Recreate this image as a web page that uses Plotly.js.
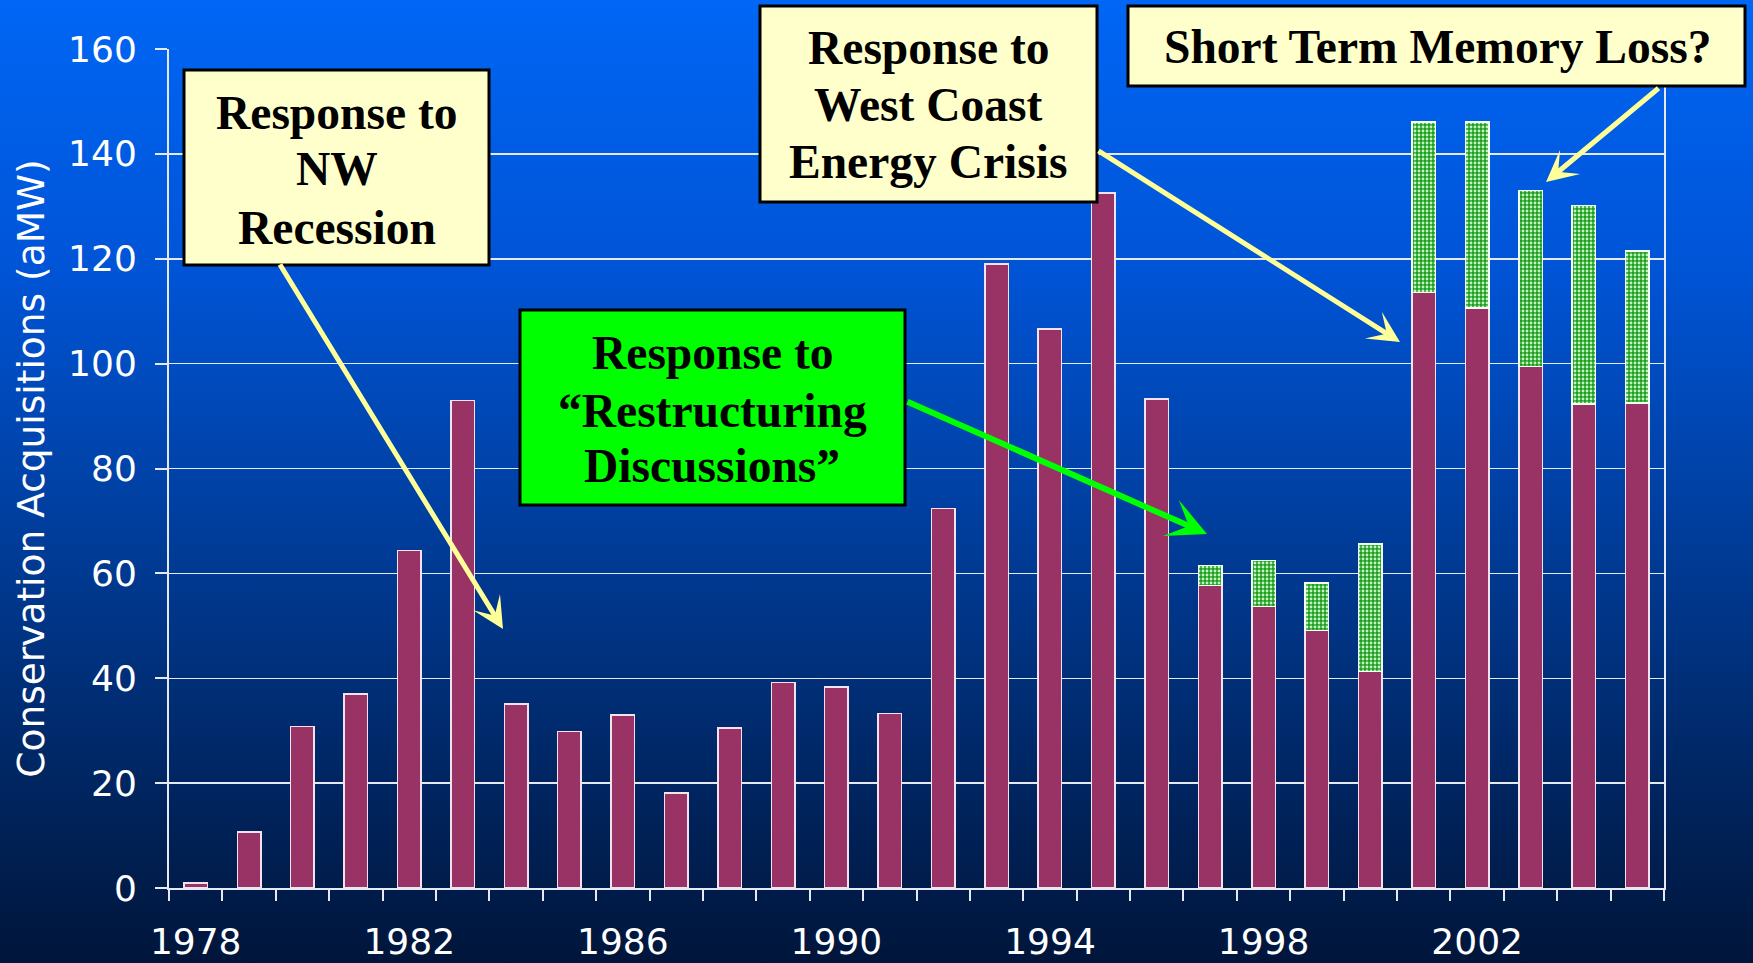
<!DOCTYPE html>
<html><head><meta charset="utf-8">
<script src="https://cdn.plot.ly/plotly-3.0.1.min.js"></script>
<style>
html,body{margin:0;padding:0;}
body{width:1753px;height:963px;overflow:hidden;background:linear-gradient(to bottom,#0066f5 0%,#0054d6 28%,#0040a2 52%,#002a6c 76%,#00153a 100%);}
#chart{width:1753px;height:963px;}
</style></head><body><div id="chart"></div>
<script>
// ---- data ----
const years = [1978,1979,1980,1981,1982,1983,1984,1985,1986,1987,1988,1989,1990,1991,1992,1993,1994,1995,1996,1997,1998,1999,2000,2001,2002,2003,2004,2005];
const baseValues = [1.0,10.7,30.8,37.0,64.4,93.0,35.1,29.8,33.0,18.1,30.5,39.2,38.3,33.3,72.4,119.0,106.6,132.5,93.3,57.7,53.7,49.1,41.3,113.6,110.6,99.5,92.3,92.5];
const extraYears = [1997,1998,1999,2000,2001,2002,2003,2004,2005];
const extraValues = [3.8,8.8,9.1,24.3,32.5,35.5,33.5,37.9,29.0];
const yTitle = 'Conservation Acquisitions (aMW)';
const box1Lines = ['Response to','NW','Recession'];
const box2Lines = ['Response to','West Coast','Energy Crisis'];
const box3Lines = ['Short Term Memory Loss?'];
const box4Lines = ['Response to','\u201CRestructuring','Discussions\u201D'];

// ---- layout helpers (pixel -> paper) ----
const W=1753,H=963,M={l:169,r:89,t:49,b:75};
const PW=W-M.l-M.r, PH=H-M.t-M.b;
const px = x => (x-M.l)/PW;
const py = y => (H-M.b-y)/PH;

const boxes = [
  {x0:184,x1:489,y0:70,y1:265,fill:'#FFFFCC',cx:336.5,lines:box1Lines,ly:[112.5,169,227.5]},
  {x0:760,x1:1097,y0:6,y1:202,fill:'#FFFFCC',cx:928,lines:box2Lines,ly:[47.8,105,162.5]},
  {x0:1128,x1:1745,y0:6,y1:86,fill:'#FFFFCC',cx:1438,lines:box3Lines,ly:[47]},
  {x0:520,x1:905,y0:310,y1:505,fill:'#00FF00',cx:712,lines:box4Lines,ly:[352.7,411,466.4]}
];
const arrows = [
  {tail:[279,263],head:[503,629],color:'#FFFF99',w:5,s:1.05},
  {tail:[1097,150],head:[1400,342],color:'#FFFF99',w:5,s:1.05},
  {tail:[1660,87],head:[1546,182],color:'#FFFF99',w:5,s:1.05},
  {tail:[906,401],head:[1207,534],color:'#00FF00',w:6,s:1.1}
];

const shapes = boxes.map(b=>({type:'rect',xref:'paper',yref:'paper',x0:px(b.x0),x1:px(b.x1),y0:py(b.y0),y1:py(b.y1),
  fillcolor:b.fill,line:{color:'#000',width:3},layer:'above'}));
const annotations = [];
boxes.forEach(b=>{
  b.lines.forEach((t,i)=>{
    annotations.push({xref:'paper',yref:'paper',x:px(b.cx),y:py(b.ly[i]),xanchor:'center',yanchor:'middle',
      text:'<b>'+t+'</b>',showarrow:false,font:{family:'Liberation Serif',size:47.5,color:'#000'}});
  });
});
arrows.forEach(a=>{
  annotations.push({xref:'paper',yref:'paper',x:px(a.head[0]),y:py(a.head[1]),
    ax:a.tail[0]-a.head[0],ay:a.tail[1]-a.head[1],axref:'pixel',ayref:'pixel',
    text:'',showarrow:true,arrowhead:3,arrowsize:a.s,arrowwidth:a.w,arrowcolor:a.color});
});

const traces = [
  {type:'bar',x:years,y:baseValues,marker:{color:'#993366',line:{color:'#f2e4ee',width:1.5}},hoverinfo:'none',showlegend:false},
  {type:'bar',x:extraYears,y:extraValues,marker:{color:'#1f9f1f',line:{color:'#f4fff4',width:1.5},
    pattern:{shape:'.',bgcolor:'#1f9f1f',fgcolor:'#c4f2c4',size:4,solidity:0.4}},hoverinfo:'none',showlegend:false}
];

const axisCol = '#e6e8f2';
const layout = {
  width:W,height:H,margin:{l:M.l,r:M.r,t:M.t,b:M.b,pad:0},
  paper_bgcolor:'rgba(0,0,0,0)',plot_bgcolor:'rgba(0,0,0,0)',
  barmode:'stack',bargap:0.56,
  xaxis:{type:'linear',range:[1977.5,2005.5],tickmode:'linear',tick0:1978,dtick:4,
    ticks:'outside',ticklen:10,tickcolor:'rgba(0,0,0,0)',showgrid:false,zeroline:false,
    showline:true,linecolor:axisCol,linewidth:2,ticklabelstandoff:11,
    tickfont:{family:'DejaVu Sans',size:36,color:'#fff'},
    minor:{tick0:1977.5,dtick:1,ticks:'outside',ticklen:11,tickwidth:2,tickcolor:axisCol,showgrid:false}},
  yaxis:{range:[0,160],tickmode:'linear',tick0:0,dtick:20,ticks:'outside',ticklen:12,tickwidth:2,tickcolor:axisCol,
    showgrid:true,gridcolor:axisCol,gridwidth:1.5,zeroline:false,showline:true,mirror:true,linecolor:axisCol,linewidth:2,
    ticklabelstandoff:11,tickfont:{family:'DejaVu Sans',size:36,color:'#fff'},
    title:{text:yTitle,font:{family:'DejaVu Sans',size:37.5,color:'#fff'},standoff:12}},
  shapes:shapes,annotations:annotations
};
Plotly.newPlot('chart',traces,layout,{displayModeBar:false,staticPlot:true});
</script></body></html>
